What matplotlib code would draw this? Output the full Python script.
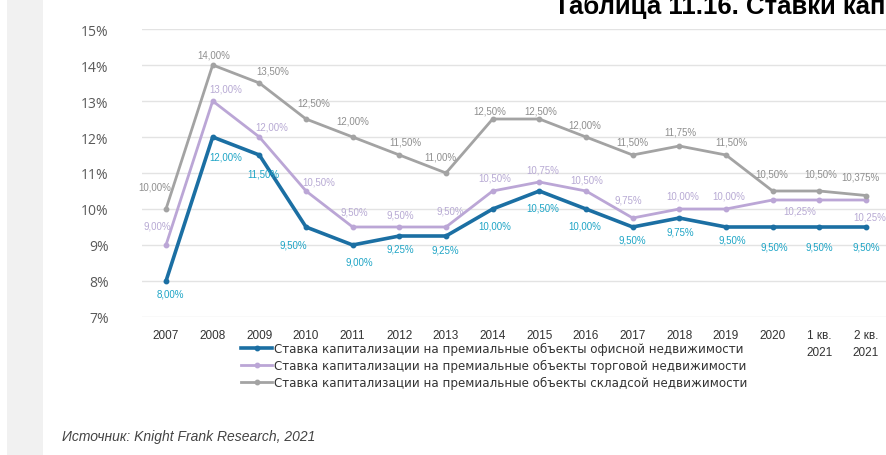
import matplotlib
matplotlib.use("Agg")
import matplotlib.pyplot as plt
from matplotlib.patches import Rectangle

plt.rcParams['font.family'] = ['Liberation Sans', 'DejaVu Sans']

# ---- data -------------------------------------------------------------
periods = ["2007", "2008", "2009", "2010", "2011", "2012", "2013", "2014",
           "2015", "2016", "2017", "2018", "2019", "2020", "1 кв.\n2021", "2 кв.\n2021"]

office = [8.00, 12.00, 11.50, 9.50, 9.00, 9.25, 9.25, 10.00,
          10.50, 10.00, 9.50, 9.75, 9.50, 9.50, 9.50, 9.50]
retail = [9.00, 13.00, 12.00, 10.50, 9.50, 9.50, 9.50, 10.50,
          10.75, 10.50, 9.75, 10.00, 10.00, 10.25, 10.25, 10.25]
warehouse = [10.00, 14.00, 13.50, 12.50, 12.00, 11.50, 11.00, 12.50,
             12.50, 12.00, 11.50, 11.75, 11.50, 10.50, 10.50, 10.375]

series_names = [
    "Ставка капитализации на премиальные объекты офисной недвижимости",
    "Ставка капитализации на премиальные объекты торговой недвижимости",
    "Ставка капитализации на премиальные объекты складсой недвижимости",
]
y_ticks = [7, 8, 9, 10, 11, 12, 13, 14, 15]

# label offsets in pixels (dx, dy) for each point
office_off = [(4, -13), (13, -20), (4, -19), (-13, -18), (7, -17), (1, -13), (-1, -14),
              (2, -17), (3, -17), (-1, -17), (0, -13), (1, -14), (6, -13), (2, -20),
              (0, -20), (0, -20)]
retail_off = [(-9, 19), (13, 12), (12, 11), (13, 9), (2, 15), (1, 12), (4, 16),
              (2, 13), (3, 12), (1, 11), (-4, 18), (3, 13), (3, 13), None,
              (-20, -11), (4, -17)]
warehouse_off = [(-11, 22), (1, 11), (13, 12), (8, 17), (0, 17), (6, 13), (-6, 16),
                 (-3, 9), (1, 9), (-1, 13), (0, 13), (1, 14), (5, 13), (-1, 17),
                 (1, 17), (-6, 19)]


def fmt(v):
    s = f"{v:.3f}".rstrip("0")
    if len(s.split(".")[1]) < 2:
        s = f"{v:.2f}"
    return s.replace(".", ",") + "%"


fig = plt.figure(figsize=(8.86, 4.56), dpi=100)
fig.patch.set_facecolor("white")

# shaded strip on the left side
fig.patches.append(Rectangle((0.008, 0.0), 0.040, 1.0, transform=fig.transFigure,
                             facecolor="#f1f1f1", edgecolor="none", zorder=0))

ax = fig.add_axes([142 / 886, 1 - 318 / 456, (886 - 142) / 886, (318 - 30) / 456])
ax.set_facecolor("white")
x = list(range(len(periods)))

styles = [
    (office, "#1b6fa3", "#1fa5c6", 2.6, office_off, series_names[0]),
    (retail, "#bba6d6", "#b8aad4", 2.0, retail_off, series_names[1]),
    (warehouse, "#a3a3a3", "#8f8f8f", 2.0, warehouse_off, series_names[2]),
]

handles = []
for vals, lc, tc, lw, offs, name in styles:
    (h,) = ax.plot(x, vals, color=lc, lw=lw, marker="o", ms=3.2, zorder=3, label=name)
    handles.append(h)
    for xi, v, off in zip(x, vals, offs):
        if off is None:
            continue
        ax.annotate(fmt(v), (xi, v), xytext=off, textcoords="offset pixels",
                    ha="center", va="center", fontsize=7, color=tc, zorder=4)

ax.set_xlim(-24 / 46.67, 15 + 20 / 46.67)
ax.set_ylim(7, 15)
ax.set_yticks(y_ticks)
ax.set_yticklabels([f"{t}%" for t in y_ticks], fontsize=10, color="#5a5a5a",
                   family=['Open Sans', 'DejaVu Sans'])
ax.set_xticks(x)
ax.set_xticklabels(periods, fontsize=8.5, color="#333333", linespacing=1.45)
ax.tick_params(axis="both", length=0)
ax.tick_params(axis="y", pad=24)
ax.tick_params(axis="x", pad=9)
for lbl in ax.get_xticklabels():
    lbl.set_verticalalignment("top")
ax.grid(axis="y", color="#e3e3e3", lw=1.0)
ax.set_axisbelow(True)
for sp in ax.spines.values():
    sp.set_visible(False)

fig.legend(handles=handles, loc="upper left", bbox_to_anchor=(241 / 886, 1 - 343 / 456),
           frameon=False, handlelength=2.6, handletextpad=0.2,
           labelspacing=0.32, borderaxespad=0, borderpad=0, labelcolor="#333333",
           prop={"family": ["DejaVu Sans"], "size": 8.6})

fig.text(554 / 886, 1 - 14 / 456, "Таблица 11.16. Ставки капитализации", fontsize=18.5,
         fontweight="bold", color="black", ha="left", va="baseline",
         family=['Liberation Sans', 'DejaVu Sans'])
fig.text(62 / 886, 1 - 437 / 456, "Источник: Knight Frank Research, 2021", fontsize=10,
         style="italic", color="#444444", ha="left", va="center",
         family=['Liberation Sans', 'DejaVu Sans'])

fig.savefig("out.png", dpi=100)
